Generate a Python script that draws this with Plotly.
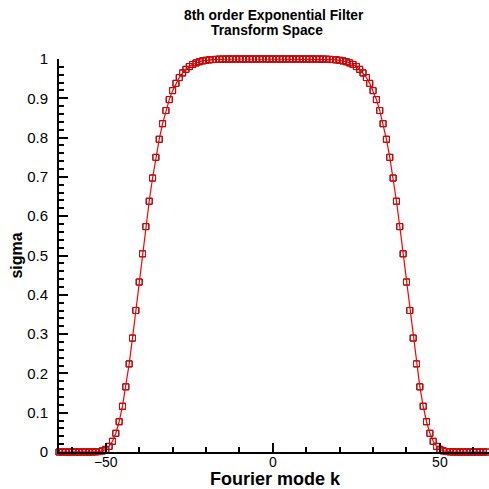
import plotly.graph_objects as go

k = list(range(-64, 65))
sigma = [
    0.0, 0.0, 0.0, 0.0, 0.0, 0.0, 0.0, 0.0, 0.0, 0.0,
    0.0001, 0.0004, 0.0011, 0.0029, 0.0068,
    0.0143, 0.0272, 0.0476, 0.0770, 0.1164,
    0.1658, 0.2242, 0.2899, 0.3601, 0.4325,
    0.5043, 0.5735, 0.6381, 0.6971, 0.7498,
    0.7958, 0.8354, 0.8688, 0.8967, 0.9195,
    0.9380, 0.9528, 0.9645, 0.9737, 0.9807,
    0.9860, 0.9900, 0.9930, 0.9952, 0.9967,
    0.9978, 0.9986, 0.9991, 0.9995, 0.9997,
    0.9998, 0.9999,
    1.0, 1.0, 1.0, 1.0, 1.0, 1.0, 1.0, 1.0, 1.0, 1.0, 1.0, 1.0, 1.0,
    1.0, 1.0, 1.0, 1.0, 1.0, 1.0, 1.0, 1.0, 1.0, 1.0, 1.0, 1.0,
    0.9999, 0.9998,
    0.9997, 0.9995, 0.9991, 0.9986, 0.9978,
    0.9967, 0.9952, 0.9930, 0.9900, 0.9860,
    0.9807, 0.9737, 0.9645, 0.9528, 0.9380,
    0.9195, 0.8967, 0.8688, 0.8354, 0.7958,
    0.7498, 0.6971, 0.6381, 0.5735, 0.5043,
    0.4325, 0.3601, 0.2899, 0.2242, 0.1658,
    0.1164, 0.0770, 0.0476, 0.0272, 0.0143,
    0.0068, 0.0029, 0.0011, 0.0004, 0.0001,
    0.0, 0.0, 0.0, 0.0, 0.0, 0.0, 0.0, 0.0, 0.0, 0.0,
]

title_lines = ["8th order Exponential Filter", "Transform Space"]
x_title = "Fourier mode k"
y_title = "sigma"

fig = go.Figure()
fig.add_trace(go.Scatter(
    x=k, y=sigma, mode="markers", cliponaxis=False,
    marker=dict(symbol="square-open", size=6, color="black", line=dict(width=1)),
    showlegend=False,
))
fig.add_trace(go.Scatter(
    x=k, y=sigma, mode="lines+markers", cliponaxis=False,
    line=dict(color="#ff0000", width=1.2),
    marker=dict(symbol="square-open", size=6, color="#e80000", line=dict(width=1)),
    showlegend=False,
))

font = "Liberation Sans, Arial, sans-serif"
fig.update_layout(
    width=489, height=489,
    margin=dict(l=59, r=0, t=59, b=37),
    plot_bgcolor="white", paper_bgcolor="white",
    font=dict(family=font, color="black"),
    xaxis=dict(
        range=[-64, 64.7], showgrid=False, zeroline=False, automargin=False,
        showline=True, linecolor="black", linewidth=2,
        ticks="inside", tickvals=[-50, 0, 50], ticklen=9, tickwidth=2, tickcolor="black",
        minor=dict(dtick=10, tick0=0, ticks="inside", ticklen=5, tickwidth=1.5, tickcolor="black"),
        tickfont=dict(size=14), ticklabelstandoff=-4,
    ),
    yaxis=dict(
        range=[0, 1], showgrid=False, zeroline=False, automargin=False,
        showline=True, linecolor="black", linewidth=2,
        ticks="inside", dtick=0.1, tick0=0, ticklen=9, tickwidth=2, tickcolor="black",
        minor=dict(dtick=0.02, tick0=0, ticks="inside", ticklen=5, tickwidth=1.5, tickcolor="black"),
        tickfont=dict(size=15), ticklabelstandoff=6,
        title=dict(text="<b>%s</b>" % y_title, font=dict(size=16), standoff=1),
    ),
)
fig.add_annotation(text="<b>%s</b>" % x_title, xref="paper", yref="paper",
                   x=(275 - 59) / 430, y=-(490 - 452) / 393, showarrow=False, borderpad=0,
                   font=dict(size=18), xanchor="center", yanchor="bottom")
fig.add_annotation(text="<b>%s</b>" % title_lines[0], xref="paper", yref="paper",
                   x=(274 - 59) / 430, y=1 + (59 - 15) / 393, showarrow=False,
                   font=dict(size=13.8), xanchor="center", yanchor="middle")
fig.add_annotation(text="<b>%s</b>" % title_lines[1], xref="paper", yref="paper",
                   x=(267 - 59) / 430, y=1 + (59 - 30) / 393, showarrow=False,
                   font=dict(size=13.8), xanchor="center", yanchor="middle")

fig.write_html("out.html")
